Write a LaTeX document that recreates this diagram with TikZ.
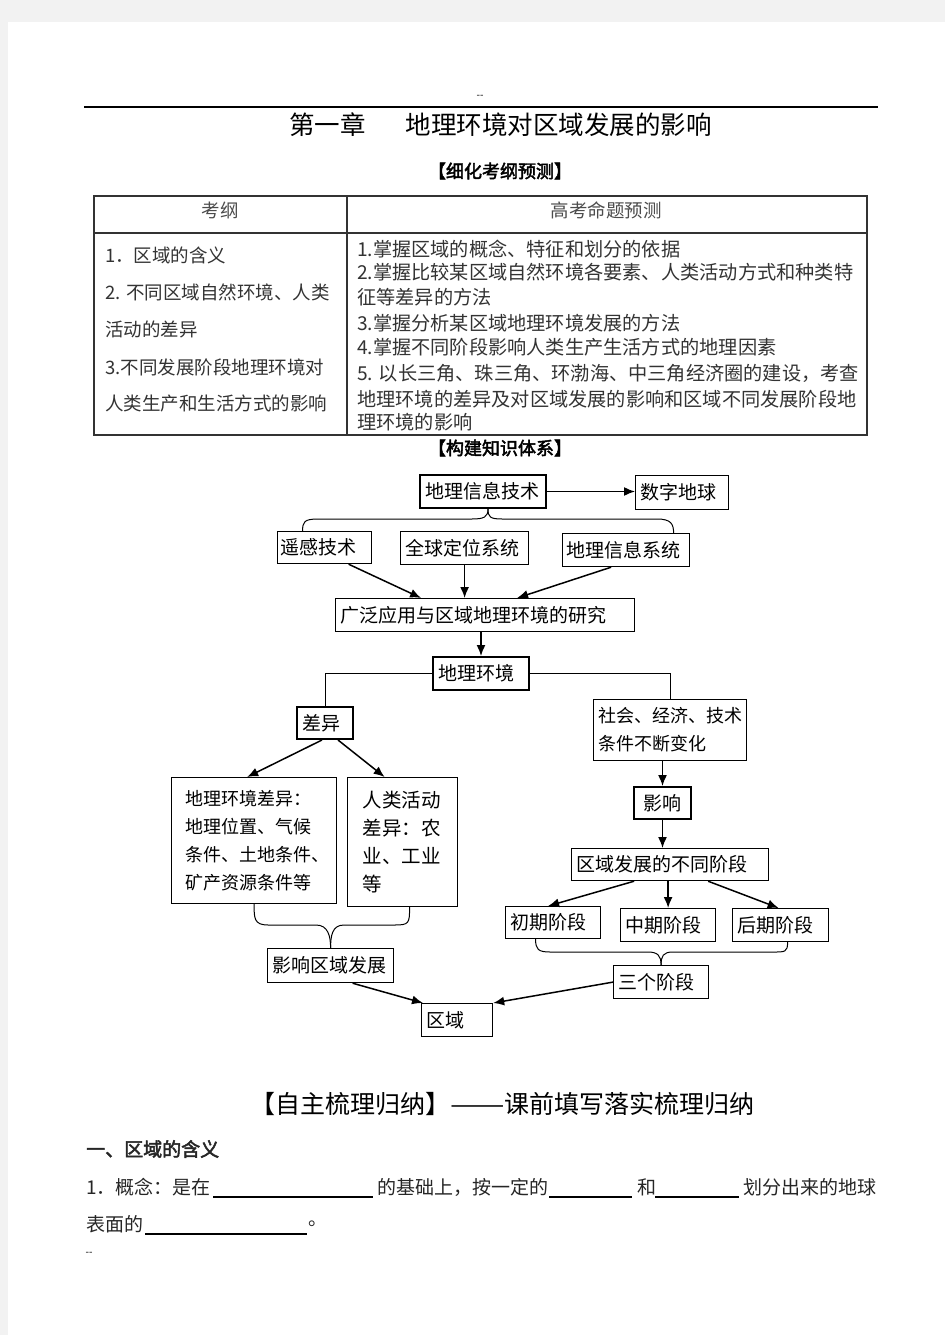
\documentclass[tikz,border=0pt]{standalone}
\usepackage{fontspec}
\setmainfont{Noto Sans CJK SC}[AutoFakeBold=2.5]
\usetikzlibrary{arrows.meta,calc}
\newcommand\bx[8][]{%
  \pgfmathsetmacro\bxw{#5-2*#7}%
  \node[box,minimum width=#5pt,minimum height=#6pt,inner xsep=#7pt,text width=\bxw pt,#1] (#2) at (#3,#4) {#8};}
\begin{document}
\begin{tikzpicture}[x=1pt,y=-1pt,
  box/.style={draw=black,line width=1.2pt,fill=white,anchor=north west,align=left,inner ysep=0pt,font=\fontsize{19}{22}\selectfont},
  thickbox/.style={line width=2pt},
  arr/.style={-{Latex[length=11pt,width=9pt]},line width=1.5pt},
  br/.style={line width=1pt},
  tl/.style={anchor=west,inner sep=0pt,text=black!80,font=\fontsize{18.5}{22}\selectfont},
  tr/.style={anchor=west,inner sep=0pt,text=black!80,font=\fontsize{19.2}{22}\selectfont},
  body/.style={anchor=west,inner sep=0pt,text=black!85,font=\fontsize{19}{22}\selectfont}]
% page
\fill[black!5] (0,0) rectangle (945,1335);
\fill[white] (8,22) rectangle (945,1335);
\useasboundingbox (0,0) rectangle (945,1335);
% header
\node[inner sep=0pt,font=\fontsize{10}{12}\selectfont] (dashtop) at (480,97) {-{}-};
\draw[line width=1.5pt] (84,107) -- (878,107);
\node[anchor=west,inner sep=0pt,font=\fontsize{25.5}{30}\selectfont] (title) at (289,125) {第一章\hspace{40pt}地理环境对区域发展的影响};
\node[inner sep=0pt,font=\bfseries\fontsize{18}{22}\selectfont] (sec1) at (500,171) {【细化考纲预测】};
% table
\draw[line width=1.2pt,black!80] (94,196) rectangle (867,435);
\draw[line width=1.2pt,black!80] (94,233) -- (867,233);
\draw[line width=1.2pt,black!80] (347,196) -- (347,435);
\node[inner sep=0pt,text=black!70,font=\fontsize{18.5}{22}\selectfont] (th1) at (220,210) {考纲};
\node[inner sep=0pt,text=black!70,font=\fontsize{18.5}{22}\selectfont] (th2) at (606,210) {高考命题预测};
\node[tl] (l1) at (105,255) {1．区域的含义};
\node[tl] (l2) at (105,292) {2. 不同区域自然环境、人类};
\node[tl] (l3) at (105,329) {活动的差异};
\node[tl] (l4) at (105,367) {3.不同发展阶段地理环境对};
\node[tl] (l5) at (105,403) {人类生产和生活方式的影响};
\node[tr] (r1) at (357,249) {1.掌握区域的概念、特征和划分的依据};
\node[tr] (r2) at (357,272) {2.掌握比较某区域自然环境各要素、人类活动方式和种类特};
\node[tr] (r3) at (357,297) {征等差异的方法};
\node[tr] (r4) at (357,323) {3.掌握分析某区域地理环境发展的方法};
\node[tr] (r5) at (357,347) {4.掌握不同阶段影响人类生产生活方式的地理因素};
\node[tr] (r6) at (357,373) {5. 以长三角、珠三角、环渤海、中三角经济圈的建设，考查};
\node[tr] (r7) at (357,399) {地理环境的差异及对区域发展的影响和区域不同发展阶段地};
\node[tr] (r8) at (357,422) {理环境的影响};
\node[inner sep=0pt,font=\bfseries\fontsize{18}{22}\selectfont] (sec2) at (500,448) {【构建知识体系】};
% diagram boxes
\bx[thickbox]{git}{419}{474}{126}{33}{5}{地理信息技术}
\bx{szdq}{635}{475}{93}{34}{5}{数字地球}
\bx{yg}{277}{531}{94}{32}{3}{遥感技术}
\bx{qq}{400}{531}{128}{33}{5}{全球定位系统}
\bx{gis}{562}{533}{127}{33}{4}{地理信息系统}
\bx{gf}{335}{598}{299}{33}{5}{广泛应用与区域地理环境的研究}
\bx[thickbox]{dl}{432}{656}{96}{33}{5}{地理环境}
\bx[thickbox]{cy}{296}{706}{56}{32}{5}{差异}
\bx[font=\fontsize{18}{28}\selectfont]{sh}{593}{699}{153}{61}{5}{社会、经济、技术\\条件不断变化}
\bx[thickbox]{yx}{633}{786}{57}{32}{9}{影响}
\bx[font=\fontsize{18}{28}\selectfont]{ge}{171}{777}{165}{126}{14}{地理环境差异：\\地理位置、气候\\条件、土地条件、\\矿产资源条件等}
\bx[font=\fontsize{19.5}{28}\selectfont]{rl}{347}{777}{110}{129}{15}{人类活动\\差异：农\\业、工业\\等}
\bx{yq}{267}{948}{126}{34}{5}{影响区域发展}
\bx{qy}{421}{1003}{71}{33}{5}{区域}
\bx{bt}{571}{848}{197}{32}{5}{区域发展的不同阶段}
\bx{cq}{505}{906}{95}{32}{5}{初期阶段}
\bx{zq}{620}{908}{95}{33}{5}{中期阶段}
\bx{hq}{732}{908}{96}{33}{5}{后期阶段}
\bx{sg}{613}{965}{95}{33}{5}{三个阶段}
% connectors
\draw[arr] (git.east) -- (git.east -| szdq.west);
\draw[br] ([xshift=-22pt]yg.north) .. controls +(0,-9) and +(-14,0) .. (318,519) -- (472,519) .. controls +(12,0) and +(0,8) .. ([xshift=5pt]git.south);
\draw[br] ([xshift=5pt]git.south) .. controls +(0,8) and +(-12,0) .. (502,519) -- (657,519) .. controls +(14,0) and +(0,-9) .. ([xshift=47.5pt]gis.north);
\draw[arr] ([xshift=24pt]yg.south) -- ([xshift=-64pt]gf.north);
\draw[arr] (qq.south) -- (qq.south |- gf.north);
\draw[arr] ([xshift=-15pt]gis.south) -- ([xshift=32pt]gf.north);
\draw[arr] (dl.north |- gf.south) -- (dl.north);
\draw[line width=1pt] (dl.west) -| (cy.north);
\draw[line width=1pt] (dl.east) -| (sh.north);
\draw[arr] ([xshift=-3pt]cy.south) -- ([xshift=-7pt]ge.north);
\draw[arr] ([xshift=13pt]cy.south) -- ([xshift=-18pt]rl.north);
\draw[arr] (yx.north |- sh.south) -- (yx.north);
\draw[arr] (yx.south) -- (yx.south |- bt.north);
\draw[arr] ([xshift=-36pt]bt.south) -- ([xshift=-5pt]cq.north);
\draw[arr] (zq.north |- bt.south) -- (zq.north);
\draw[arr] ([xshift=38pt]bt.south) -- ([xshift=-2pt]hq.north);
\draw[br] (ge.south) .. controls +(0,14) and +(-14,0) .. (268,925) -- (316,925) .. controls +(12,0) and +(0,-12) .. (yq.north);
\draw[br] (yq.north) .. controls +(0,-12) and +(-12,0) .. (344,925) -- (395,925) .. controls +(14,0) and +(0,16) .. ([xshift=7pt]rl.south);
\draw[br] ([xshift=-17.5pt]cq.south) .. controls +(0,10) and +(-12,0) .. (550,952) -- (648,952) .. controls +(10,0) and +(0,-9) .. (sg.north);
\draw[br] (sg.north) .. controls +(0,-9) and +(-10,0) .. (673,952) -- (773,952) .. controls +(12,0) and +(0,10) .. ([xshift=7pt]hq.south);
\draw[arr] ([xshift=22pt]yq.south) -- ([xshift=2pt]qy.north west);
\draw[arr] (sg.west) -- (qy.north east);
% bottom text
\node[anchor=west,inner sep=0pt,font=\fontsize{25}{30}\selectfont] (sec3) at (250,1104) {【自主梳理归纳】\scalebox{1.3}[1]{——}课前填写落实梳理归纳};
\node[body,font=\bfseries\fontsize{19}{22}\selectfont] (s1) at (86,1149) {一、区域的含义};
\node[body] (p1) at (86,1187) {1．概念：是在};
\node[body] (p2) at (377,1187) {的基础上，按一定的};
\node[body] (p3) at (637,1187) {和};
\node[body] (p4) at (743,1187) {划分出来的地球};
\node[body] (p5) at (86,1224) {表面的};
\node[body] (p6) at (308,1224) {。};
\draw[line width=1.3pt] (213,1197) -- (373,1197);
\draw[line width=1.3pt] (549,1197) -- (632,1197);
\draw[line width=1.3pt] (655,1197) -- (739,1197);
\draw[line width=1.3pt] (145,1234) -- (307,1234);
\node[inner sep=0pt,font=\fontsize{10}{12}\selectfont] (dashbot) at (89,1254) {-{}-};
\end{tikzpicture}
\end{document}
